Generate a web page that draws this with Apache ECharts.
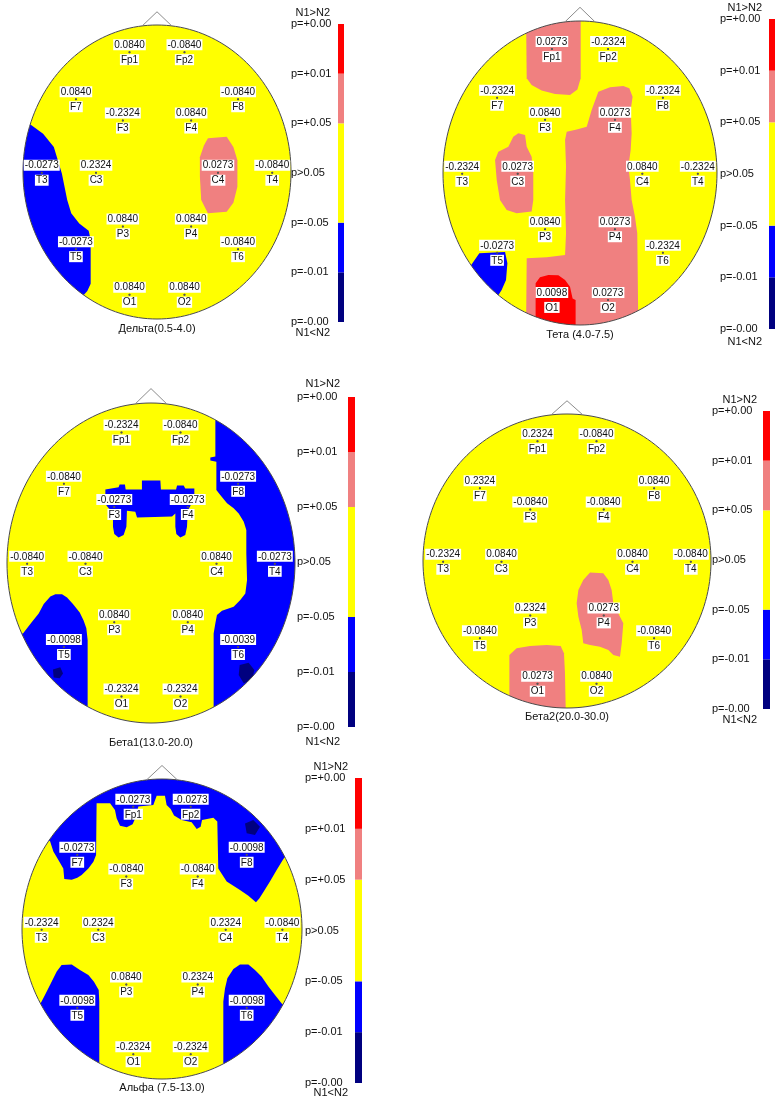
<!DOCTYPE html>
<html>
<head>
<meta charset="utf-8">
<script src="https://cdn.jsdelivr.net/npm/echarts@6/dist/echarts.min.js"></script>
<style>
  html, body { margin: 0; padding: 0; background: #fff; }
  #chart { width: 775px; height: 1102px; }
</style>
</head>
<body>
<div id="chart"></div>
<script>
// 16-lead 10-20 montage; head-normalised coordinates (x to the right, y downwards, rim = 1)
const electrodes = ['Fp1','Fp2','F7','F3','F4','F8','T3','C3','C4','T4','T5','P3','P4','T6','O1','O2'];
const electrodeX = [-0.205, 0.205, -0.605, -0.255, 0.255, 0.605, -0.86, -0.455, 0.455, 0.86, -0.605, -0.255, 0.255, 0.605, -0.205, 0.205];
const electrodeY = [-0.815, -0.815, -0.495, -0.35, -0.35, -0.495, 0.005, 0.005, 0.005, 0.005, 0.525, 0.37, 0.37, 0.525, 0.835, 0.835];

// band titles
const bandTitles = ['Дельта(0.5-4.0)', 'Тета (4.0-7.5)', 'Бета1(13.0-20.0)', 'Бета2(20.0-30.0)', 'Альфа (7.5-13.0)'];

// p-values per electrode (sign: N1>N2 positive, N1<N2 negative)
const deltaP = [0.0840, -0.0840, 0.0840, -0.2324, 0.0840, -0.0840, -0.0273, 0.2324, 0.0273, -0.0840, -0.0273, 0.0840, 0.0840, -0.0840, 0.0840, 0.0840];
const thetaP = [0.0273, -0.2324, -0.2324, 0.0840, 0.0273, -0.2324, -0.2324, 0.0273, 0.0840, -0.2324, -0.0273, 0.0840, 0.0273, -0.2324, 0.0098, 0.0273];
const beta1P = [-0.2324, -0.0840, -0.0840, -0.0273, -0.0273, -0.0273, -0.0840, -0.0840, 0.0840, -0.0273, -0.0098, 0.0840, 0.0840, -0.0039, -0.2324, -0.2324];
const beta2P = [0.2324, -0.0840, 0.2324, -0.0840, -0.0840, 0.0840, -0.2324, 0.0840, 0.0840, -0.0840, -0.0840, 0.2324, 0.0273, -0.0840, 0.0273, 0.0840];
const alphaP = [-0.0273, -0.0273, -0.0273, -0.0840, -0.0840, -0.0098, -0.2324, 0.2324, 0.2324, -0.0840, -0.0098, 0.0840, 0.2324, -0.0098, -0.2324, -0.2324];

// significance zones on the scalp map (outlines in head-normalised coordinates; the rest is p>0.05)
const deltaZones = [
  { cls: 'blue', pts: [[-1.12,-0.34],[-0.97,-0.34],[-0.85,-0.26],[-0.77,-0.17],[-0.74,-0.08],[-0.71,0.01],[-0.69,0.10],[-0.67,0.19],[-0.64,0.28],[-0.58,0.35],[-0.51,0.40],[-0.495,0.46],[-0.495,0.76],[-0.52,0.81],[-0.56,0.85],[-0.61,0.94],[-1.12,0.94]] },
  { cls: 'pink', pts: [[0.38,-0.23],[0.52,-0.24],[0.57,-0.17],[0.60,-0.08],[0.60,0.10],[0.57,0.21],[0.52,0.27],[0.38,0.28],[0.33,0.19],[0.32,0.03],[0.32,-0.10],[0.35,-0.18]] }
];
const thetaZones = [
  { cls: 'pink', pts: [[-0.394,-1.07],[0.005,-1.07],[0.005,-0.623],[-0.019,-0.55],[-0.073,-0.513],[-0.182,-0.52],[-0.28,-0.542],[-0.353,-0.579],[-0.389,-0.623]] },
  { cls: 'pink', pts: [[0.134,-0.535],[0.085,-0.414],[0.049,-0.305],[-0.024,-0.287],[-0.097,-0.272],[-0.109,-0.217],[-0.102,-0.042],[-0.109,0.178],[-0.102,0.397],[-0.109,0.539],[-0.243,0.555],[-0.389,0.561],[-0.394,1.05],[0.426,1.05],[0.418,0.397],[0.401,0.287],[0.377,0.178],[0.365,0.046],[0.353,-0.042],[0.37,-0.151],[0.377,-0.261],[0.37,-0.414],[0.384,-0.502],[0.36,-0.557],[0.316,-0.572],[0.219,-0.564]] },
  { cls: 'pink', pts: [[-0.45,-0.261],[-0.401,-0.25],[-0.389,-0.173],[-0.353,-0.107],[-0.341,0.002],[-0.341,0.178],[-0.353,0.254],[-0.462,0.265],[-0.535,0.243],[-0.584,0.178],[-0.608,0.046],[-0.62,-0.086],[-0.596,-0.14],[-0.523,-0.173],[-0.487,-0.239]] },
  { cls: 'red', pts: [[-0.324,0.726],[-0.292,0.686],[-0.231,0.671],[-0.158,0.673],[-0.109,0.704],[-0.073,0.748],[-0.054,0.825],[-0.032,0.836],[-0.032,1.05],[-0.324,1.05]] },
  { cls: 'blue', pts: [[-0.803,0.616],[-0.735,0.528],[-0.547,0.52],[-0.53,0.594],[-0.54,0.704],[-0.572,0.77],[-0.603,0.814],[-0.657,0.846],[-0.9,0.682]] }
];
const beta1Zones = [
  { cls: 'blue', pts: [[0.447,-1.1],[0.447,-0.665],[0.412,-0.66],[0.412,-0.64],[0.454,-0.633],[0.454,-0.456],[0.481,-0.425],[0.528,-0.373],[0.574,-0.342],[0.609,-0.31],[0.644,-0.258],[0.662,-0.206],[0.662,-0.06],[0.667,0.106],[0.655,0.19],[0.62,0.231],[0.574,0.273],[0.493,0.298],[0.458,0.325],[0.447,0.377],[0.435,0.44],[0.435,1.05],[1.1,1.05],[1.1,-1.1]] },
  { cls: 'blue', pts: [[-0.317,-0.46],[-0.225,-0.473],[-0.218,-0.49],[-0.181,-0.49],[-0.176,-0.46],[-0.063,-0.46],[-0.063,-0.515],[0.065,-0.515],[0.069,-0.46],[0.174,-0.46],[0.181,-0.485],[0.227,-0.485],[0.238,-0.465],[0.301,-0.465],[0.301,-0.425],[0.273,-0.356],[0.255,-0.327],[0.25,-0.227],[0.238,-0.175],[0.204,-0.16],[0.176,-0.181],[0.169,-0.227],[0.169,-0.31],[0.146,-0.29],[-0.097,-0.285],[-0.109,-0.321],[-0.167,-0.327],[-0.171,-0.227],[-0.19,-0.175],[-0.225,-0.16],[-0.255,-0.181],[-0.264,-0.227],[-0.264,-0.321],[-0.294,-0.342],[-0.317,-0.369]] },
  { cls: 'blue', pts: [[-0.889,0.44],[-0.826,0.367],[-0.78,0.315],[-0.745,0.256],[-0.699,0.21],[-0.664,0.196],[-0.618,0.196],[-0.583,0.215],[-0.542,0.256],[-0.495,0.31],[-0.468,0.36],[-0.449,0.408],[-0.44,0.481],[-0.44,1.05],[-1.1,1.05],[-1.1,0.44]] },
  { cls: 'navy', pts: [[-0.681,0.665],[-0.63,0.652],[-0.611,0.69],[-0.634,0.721],[-0.676,0.715]] },
  { cls: 'navy', pts: [[0.616,0.638],[0.678,0.623],[0.718,0.669],[0.701,0.731],[0.644,0.752],[0.609,0.7]] }
];
const beta2Zones = [
  { cls: 'pink', pts: [[0.16,0.079],[0.252,0.084],[0.287,0.129],[0.31,0.197],[0.322,0.288],[0.368,0.379],[0.391,0.424],[0.38,0.56],[0.368,0.651],[0.322,0.639],[0.287,0.605],[0.229,0.583],[0.16,0.571],[0.113,0.56],[0.102,0.469],[0.079,0.379],[0.067,0.288],[0.079,0.197],[0.113,0.129]] },
  { cls: 'pink', pts: [[-0.40,0.639],[-0.35,0.594],[-0.257,0.578],[-0.141,0.571],[-0.044,0.578],[-0.021,0.628],[-0.014,0.764],[-0.007,1.1],[-0.40,1.1]] }
];
const alphaZones = [
  { cls: 'blue', pts: [[-0.8,-0.587],[-0.776,-0.516],[-0.74,-0.46],[-0.705,-0.404],[-0.698,-0.333],[-0.645,-0.329],[-0.605,-0.342],[-0.574,-0.36],[-0.526,-0.404],[-0.49,-0.449],[-0.471,-0.493],[-0.467,-0.838],[-0.371,-0.838],[-0.336,-0.793],[-0.324,-0.738],[-0.3,-0.689],[-0.252,-0.678],[-0.21,-0.698],[-0.186,-0.749],[-0.169,-0.816],[-0.062,-0.827],[-0.038,-0.889],[0.021,-0.889],[0.033,-0.827],[0.062,-0.8],[0.086,-0.756],[0.14,-0.727],[0.212,-0.711],[0.248,-0.667],[0.276,-0.682],[0.286,-0.727],[0.367,-0.742],[0.395,-0.716],[0.402,-0.404],[0.462,-0.316],[0.557,-0.26],[0.617,-0.222],[0.671,-0.178],[0.695,-0.204],[0.729,-0.253],[0.771,-0.316],[0.819,-0.393],[0.867,-0.467],[0.895,-0.498],[1.13,-0.498],[1.13,-1.1],[-1.13,-1.1],[-1.13,-0.587]] },
  { cls: 'navy', pts: [[0.593,-0.704],[0.652,-0.727],[0.7,-0.682],[0.664,-0.627],[0.605,-0.638]] },
  { cls: 'blue', pts: [[-0.876,0.511],[-0.836,0.44],[-0.8,0.373],[-0.752,0.284],[-0.717,0.24],[-0.645,0.236],[-0.586,0.273],[-0.526,0.307],[-0.486,0.351],[-0.452,0.407],[-0.448,0.484],[-0.448,1.1],[-1.15,1.1],[-1.15,0.511]] },
  { cls: 'blue', pts: [[0.438,1.1],[0.438,0.484],[0.45,0.396],[0.467,0.329],[0.51,0.267],[0.557,0.236],[0.617,0.236],[0.664,0.273],[0.712,0.318],[0.76,0.384],[0.807,0.44],[0.855,0.496],[0.879,0.511],[1.15,0.511],[1.15,1.1]] }
];

// colour scale: bins from bottom (N1<N2, p=-0.00) to top (N1>N2, p=+0.00)
const scaleSpans = [1, 1, 2, 1, 1];
const scaleClasses = ['navy', 'blue', 'yellow', 'pink', 'red'];
const scaleTicks = ['p=-0.00', 'p=-0.01', 'p=-0.05', 'p>0.05', 'p=+0.05', 'p=+0.01', 'p=+0.00'];

// ---- styling and layout ----
const palette = { navy: '#00007f', blue: '#0000ff', yellow: '#ffff00', pink: '#f08080', red: '#ff0000' };
const FONT = '"Liberation Sans", Arial, Helvetica, sans-serif';
const TEXT = '#111111';

const bands = [
  { title: bandTitles[0], values: deltaP, zones: deltaZones },
  { title: bandTitles[1], values: thetaP, zones: thetaZones },
  { title: bandTitles[2], values: beta1P, zones: beta1Zones },
  { title: bandTitles[3], values: beta2P, zones: beta2Zones },
  { title: bandTitles[4], values: alphaP, zones: alphaZones }
];

const layout = [
  { head: { cx: 157, cy: 172, rx: 134, ry: 147 }, titleGap: 4,  bar: { left: 338, top: 24,  width: 6, height: 298 }, tickMargin: 47, topGap: 5, bottomGap: 5, namePad: 8 },
  { head: { cx: 580, cy: 173, rx: 137, ry: 152 }, titleGap: 4,  bar: { left: 769, top: 19,  width: 6, height: 310 }, tickMargin: 49, topGap: 6, bottomGap: 7, namePad: 7 },
  { head: { cx: 151, cy: 563, rx: 144, ry: 160 }, titleGap: 14, bar: { left: 348, top: 397, width: 7, height: 330 }, tickMargin: 51, topGap: 8, bottomGap: 9, namePad: 8 },
  { head: { cx: 567, cy: 561, rx: 144, ry: 147 }, titleGap: 3,  bar: { left: 763, top: 411, width: 7, height: 298 }, tickMargin: 51, topGap: 5, bottomGap: 5, namePad: 6 },
  { head: { cx: 162, cy: 929, rx: 140, ry: 150 }, titleGap: 3,  bar: { left: 355, top: 778, width: 7, height: 305 }, tickMargin: 50, topGap: 6, bottomGap: 4, namePad: 7 }
];

const RIM_STEPS = 180;
function rimPoints(api, from, to) {
  const pts = [];
  for (let i = 0; i <= RIM_STEPS; i++) {
    const t = from + (to - from) * i / RIM_STEPS;
    pts.push(api.coord([Math.cos(t), Math.sin(t)]));
  }
  return pts;
}

const grid = [], xAxis = [], yAxis = [], series = [];

bands.forEach((band, k) => {
  const L = layout[k];
  const h = L.head;

  // scalp map cartesian frame
  const gHead = grid.length;
  grid.push({ left: h.cx - h.rx, top: h.cy - h.ry, width: 2 * h.rx, height: 2 * h.ry });
  const xHead = xAxis.length;
  xAxis.push({
    gridIndex: gHead, type: 'value', min: -1, max: 1, z: 10,
    axisLine: { show: false, onZero: false }, axisTick: { show: false },
    axisLabel: { show: false }, splitLine: { show: false },
    name: band.title, nameLocation: 'middle', nameGap: L.titleGap,
    nameTextStyle: { fontSize: 11, color: TEXT, fontFamily: FONT, verticalAlign: 'top' }
  });
  const yHead = yAxis.length;
  yAxis.push({ gridIndex: gHead, type: 'value', min: -1, max: 1, inverse: true, show: false });

  // colour bar frame
  const gBar = grid.length;
  grid.push({ left: L.bar.left, top: L.bar.top, width: L.bar.width, height: L.bar.height });
  const xBar = xAxis.length;
  xAxis.push({ gridIndex: gBar, type: 'category', data: [''], show: false });
  const yBar = yAxis.length;
  const nameStyle = { fontSize: 11, color: TEXT, fontFamily: FONT, align: 'right', padding: [0, L.namePad, 0, 0] };
  yAxis.push({
    gridIndex: gBar, type: 'value', min: 0, max: 6, interval: 1, position: 'left', z: 10,
    axisLine: { show: false }, axisTick: { show: false }, splitLine: { show: false },
    axisLabel: {
      align: 'left', margin: L.tickMargin, fontSize: 11, color: TEXT, fontFamily: FONT,
      showMinLabel: true, showMaxLabel: true,
      formatter: v => scaleTicks[Math.round(v)]
    },
    name: 'N1>N2', nameLocation: 'end', nameGap: L.topGap, nameTextStyle: nameStyle
  });
  yAxis.push({
    gridIndex: gBar, type: 'value', min: 0, max: 6, position: 'left', z: 10,
    axisLine: { show: false }, axisTick: { show: false }, splitLine: { show: false },
    axisLabel: { show: false },
    name: 'N1<N2', nameLocation: 'start', nameGap: L.bottomGap, nameTextStyle: nameStyle
  });

  scaleSpans.forEach((span, j) => {
    series.push({
      type: 'bar', xAxisIndex: xBar, yAxisIndex: yBar, stack: 'scale' + k,
      barWidth: '100%', data: [span], silent: true, z: 2,
      itemStyle: { color: palette[scaleClasses[j]] }
    });
  });

  // background (p>0.05) disc
  series.push({
    type: 'custom', xAxisIndex: xHead, yAxisIndex: yHead, data: [[0, 0]], clip: false, silent: true, z: 1,
    renderItem: (p, api) => ({
      type: 'polygon', shape: { points: rimPoints(api, 0, 2 * Math.PI) },
      style: { fill: palette.yellow }
    })
  });

  // significance zones
  const zones = band.zones;
  series.push({
    type: 'custom', xAxisIndex: xHead, yAxisIndex: yHead, data: zones.map(() => [0, 0]), clip: false, silent: true, z: 2,
    renderItem: (p, api) => {
      const zn = zones[p.dataIndex];
      return { type: 'polygon', shape: { points: zn.pts.map(q => api.coord(q)) }, style: { fill: palette[zn.cls] } };
    }
  });

  // trim outside the scalp, then rim and nose
  series.push({
    type: 'custom', xAxisIndex: xHead, yAxisIndex: yHead, data: [[0, 0]], clip: false, silent: true, z: 3,
    renderItem: (p, api) => {
      const M = 1.22;
      const upper = rimPoints(api, Math.PI, 2 * Math.PI)
        .concat([api.coord([M, 0.02]), api.coord([M, -M]), api.coord([-M, -M]), api.coord([-M, 0.02])]);
      const lower = rimPoints(api, 0, Math.PI)
        .concat([api.coord([-M, -0.02]), api.coord([-M, M]), api.coord([M, M]), api.coord([M, -0.02])]);
      return {
        type: 'group',
        children: [
          { type: 'polygon', shape: { points: upper }, style: { fill: '#ffffff' } },
          { type: 'polygon', shape: { points: lower }, style: { fill: '#ffffff' } },
          { type: 'polygon', shape: { points: rimPoints(api, 0, 2 * Math.PI) }, style: { fill: 'none', stroke: '#4a4a4a', lineWidth: 1 } },
          { type: 'polyline', shape: { points: [api.coord([-0.11, -0.994]), api.coord([0, -1.09]), api.coord([0.11, -0.994])] },
            style: { fill: 'none', stroke: '#8c8c8c', lineWidth: 1 } }
        ]
      };
    }
  });

  // electrode values (above) and names (below)
  const sites = electrodes.map((n, i) => [electrodeX[i], electrodeY[i]]);
  const boxLabel = {
    show: true, distance: 1, fontSize: 10, fontFamily: FONT, color: TEXT,
    backgroundColor: '#ffffff', padding: [1, 1, 0, 1], lineHeight: 10
  };
  const vals = band.values;
  series.push({
    type: 'scatter', xAxisIndex: xHead, yAxisIndex: yHead, data: sites, symbolSize: 2, silent: true, z: 4,
    itemStyle: { color: '#555', opacity: 1 },
    label: Object.assign({}, boxLabel, { position: 'top', formatter: p => vals[p.dataIndex].toFixed(4) })
  });
  series.push({
    type: 'scatter', xAxisIndex: xHead, yAxisIndex: yHead, data: sites, symbolSize: 2, silent: true, z: 4,
    itemStyle: { color: '#555', opacity: 1 },
    label: Object.assign({}, boxLabel, { position: 'bottom', formatter: p => electrodes[p.dataIndex] })
  });
});

const chart = echarts.init(document.getElementById('chart'), null, { renderer: 'canvas' });
chart.setOption({
  animation: false,
  backgroundColor: '#ffffff',
  textStyle: { fontFamily: FONT },
  grid, xAxis, yAxis, series
});
</script>
</body>
</html>
